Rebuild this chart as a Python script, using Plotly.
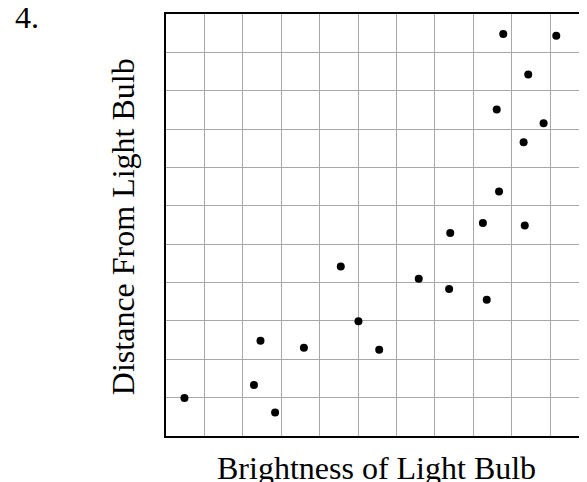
import plotly.graph_objects as go

# brightness (x) and distance (y), one unit per square
brightness = [8.78, 10.16, 9.43, 8.61, 9.83, 9.31, 8.67, 8.25, 9.34, 7.40, 4.55,
              6.58, 7.37, 8.35, 5.01, 2.46, 3.59, 5.55, 2.29, 0.48, 2.84]
distance = [10.48, 10.43, 9.42, 8.51, 8.15, 7.66, 6.37, 5.55, 5.49, 5.29, 4.42,
            4.10, 3.83, 3.55, 2.99, 2.48, 2.30, 2.25, 1.33, 0.99, 0.61]

serif = dict(family="Liberation Serif", size=32, color="black")

fig = go.Figure()
fig.add_scatter(x=brightness, y=distance, mode="markers",
                marker=dict(color="black", size=8), hoverinfo="skip")

axis_style = dict(showgrid=True, gridcolor="#a8a8a8", gridwidth=1, dtick=1, tick0=0,
                  showticklabels=False, ticks="", zeroline=False,
                  showline=True, linecolor="black", linewidth=2)
fig.update_xaxes(range=[0, 10.96], mirror=True, **axis_style)
fig.update_yaxes(range=[0, 11], mirror=False, **axis_style)

fig.add_annotation(text="Brightness of Light Bulb", xref="paper", yref="paper",
                   x=0.501, y=-0.076, xanchor="center", yanchor="middle",
                   showarrow=False, font=serif)
fig.add_annotation(text="Distance From Light Bulb", xref="paper", yref="paper",
                   x=-0.102, y=0.495, xanchor="center", yanchor="middle", textangle=-90,
                   showarrow=False, font=serif)
fig.add_annotation(text="4.", xref="paper", yref="paper",
                   x=-0.363, y=1.040, xanchor="left", yanchor="top",
                   showarrow=False, font=serif)

# the page body adds 8px around the figure, so the figure is 8px smaller
fig.update_layout(width=579, height=474,
                  margin=dict(l=158, r=0, t=6, b=46, autoexpand=False),
                  plot_bgcolor="white", paper_bgcolor="white", showlegend=False)

fig.write_html("out.html")
